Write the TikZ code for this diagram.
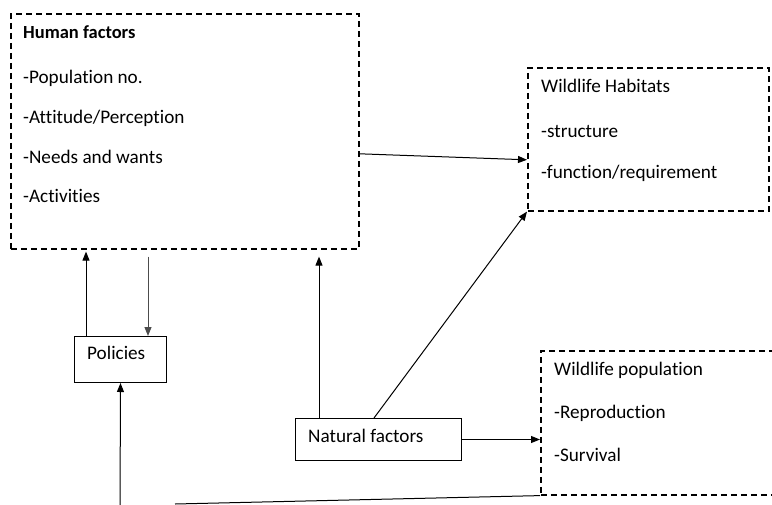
\documentclass[tikz,border=0pt]{standalone}
\usepackage{fontspec}
\setmainfont{Carlito}[Ligatures={NoCommon,NoRequired,NoContextual}]
\usetikzlibrary{arrows.meta}
\begin{document}
\begin{tikzpicture}[x=1pt,y=-1pt,
  dbox/.style={draw, dash pattern=on 6pt off 4pt, line width=1.6pt, inner sep=0pt, anchor=north west},
  sbox/.style={draw, line width=1pt, inner sep=0pt, anchor=north west},
  lbl/.style={anchor=base west, inner sep=0pt, font=\fontsize{19.2}{22}\selectfont},
  arr/.style={line width=1pt, -{Triangle[length=9pt,width=7pt]}},
  ln/.style={line width=1pt}]
\useasboundingbox (0,0) rectangle (772,504);
\clip (0,0) rectangle (772,504);
% boxes
\node[dbox, minimum width=348pt, minimum height=235pt] (human) at (10,13) {};
\node[dbox, minimum width=241pt, minimum height=143pt] (habitat) at (527,67) {};
\node[dbox, minimum width=250pt, minimum height=144pt] (wpop) at (540,350) {};
\node[sbox, minimum width=92pt, minimum height=46pt] (policies) at (74,336) {};
\node[sbox, minimum width=166pt, minimum height=42pt] (natural) at (295,418) {};
% texts
\node[lbl, font=\fontsize{18.5}{22}\selectfont\bfseries] (h0) at (23,38) {Human factors};
\node[lbl] (h1) at (23,83) {-Population no.};
\node[lbl] (h2) at (23,123) {-Attitude/Perception};
\node[lbl] (h3) at (23,163) {-Needs and wants};
\node[lbl] (h4) at (23,202) {-Activities};
\node[lbl] (w0) at (541,92) {Wildlife Habitats};
\node[lbl] (w1) at (541,137) {-structure};
\node[lbl] (w2) at (541,178) {-function/requirement};
\node[lbl] (p0) at (554,375) {Wildlife population};
\node[lbl] (p1) at (554,418) {-Reproduction};
\node[lbl] (p2) at (554,461) {-Survival};
\node[lbl] (pol) at (87,359) {Policies};
\node[lbl] (nat) at (308,442) {Natural factors};
% free ends
\coordinate (bot) at (120,510);
\coordinate (botl) at (175,504);
% connectors
\draw[arr] ([yshift=-22.5pt]human.east) -- ([yshift=-20.5pt]habitat.west);
\draw[arr, shorten >=7pt] ([xshift=24pt]natural.north west) -- ([xshift=24pt]natural.north west |- human.south);
\draw[arr] ([xshift=79pt]natural.north west) -- (habitat.south west);
\draw[arr] (natural.east) -- (natural.east -| wpop.west);
\draw[arr, shorten >=2pt] ([xshift=12pt]policies.north west) -- ([xshift=12pt]policies.north west |- human.south);
\draw[arr, black!70, shorten <=7pt] ([xshift=74pt]policies.north west |- human.south) -- ([xshift=74pt]policies.north west);
\draw[arr] (bot) -- (policies.south);
\draw[ln] (botl) -- (wpop.south west);
\end{tikzpicture}
\end{document}
